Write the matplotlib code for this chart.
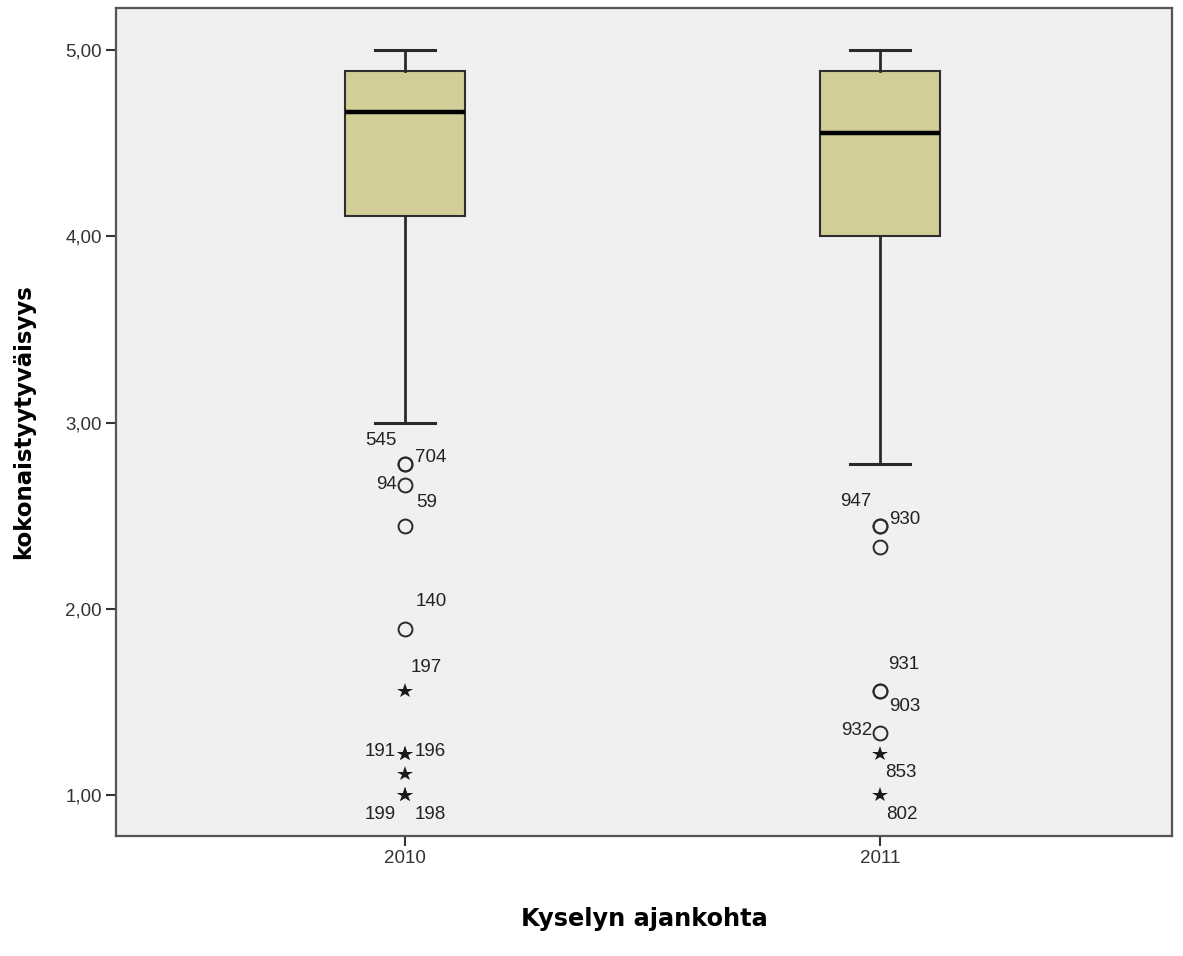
import matplotlib.pyplot as plt

# Survey rounds (x categories)
years = ['2010', '2011']

# Box statistics per year (scale 1-5)
q1 = [4.111, 4.000]
medians = [4.667, 4.556]
q3 = [4.889, 4.889]
whisker_low = [3.000, 2.778]
whisker_high = [5.000, 5.000]

# Outlying cases: value, case number, kind ('o' = outlier, '*' = extreme)
out_2010_vals = [2.778, 2.778, 2.667, 2.444, 1.889, 1.556, 1.222, 1.222, 1.111, 1.000, 1.000]
out_2010_ids = ['545', '704', '94', '59', '140', '197', '191', '196', '', '199', '198']
out_2010_kind = ['o', 'o', 'o', 'o', 'o', '*', '*', '*', '*', '*', '*']

out_2011_vals = [2.444, 2.444, 2.333, 1.556, 1.556, 1.333, 1.222, 1.000]
out_2011_ids = ['947', '930', '', '931', '903', '932', '853', '802']
out_2011_kind = ['o', 'o', 'o', 'o', 'o', 'o', '*', '*']

# label offsets in pixels (dx, dy) from the marker
off_2010 = [(-24, 23), (26, 6), (-18, 0), (22, 24), (26, 28), (21, 24),
            (-25, 2), (25, 2), (0, 0), (-25, -19), (25, -19)]
off_2011 = [(-24, 25), (25, 7), (0, 0), (24, 27), (25, -15), (-23, 3),
            (21, -19), (22, -19)]

plt.rcParams['font.family'] = ['Liberation Sans', 'DejaVu Sans']

fig = plt.figure(figsize=(11.83, 9.56), dpi=100)
ax = fig.add_axes([0.098, 0.1255, 0.8927, 0.8661])
ax.set_facecolor('#F0F0F0')

positions = [1, 2]
stats = []
for i in range(len(years)):
    stats.append({'med': medians[i], 'q1': q1[i], 'q3': q3[i],
                  'whislo': whisker_low[i], 'whishi': whisker_high[i],
                  'fliers': []})

ax.bxp(stats, positions=positions, widths=0.252, patch_artist=True,
       showfliers=False, capwidths=0.126,
       boxprops=dict(facecolor='#D3CE97', edgecolor='#2e2e2e', linewidth=1.5),
       medianprops=dict(color='black', linewidth=3.2, solid_capstyle='butt'),
       whiskerprops=dict(color='#2a2a2a', linewidth=2),
       capprops=dict(color='#2a2a2a', linewidth=2.2))

# outliers and their case labels
groups = [(out_2010_vals, out_2010_ids, out_2010_kind, off_2010),
          (out_2011_vals, out_2011_ids, out_2011_kind, off_2011)]
for pos, (vals, ids, kinds, offs) in zip(positions, groups):
    for v, lab, k, (dx, dy) in zip(vals, ids, kinds, offs):
        if k == 'o':
            ax.plot(pos, v, marker='o', markersize=10, markerfacecolor='none',
                    markeredgecolor='#2a2a2a', markeredgewidth=1.4, zorder=4)
        else:
            ax.plot(pos, v, marker='*', markersize=11.5, color='#1a1a1a',
                    markeredgewidth=0, zorder=4)
        if lab:
            ax.annotate(lab, xy=(pos, v), xytext=(dx, dy),
                        textcoords='offset pixels', ha='center', va='center',
                        fontsize=13.5, color='#222222')

ax.set_xlim(0.3916, 2.615)
ax.set_ylim(0.78, 5.2255)
ax.set_xticks(positions)
ax.set_xticklabels(years)
ax.set_yticks([1, 2, 3, 4, 5])
ax.set_yticklabels(['1,00', '2,00', '3,00', '4,00', '5,00'])
ax.tick_params(direction='out', length=7, width=1.5, colors='#333333',
               labelsize=13.5, pad=3)

for sp in ax.spines.values():
    sp.set_color('#555555')
    sp.set_linewidth(1.6)

ax.set_xlabel('Kyselyn ajankohta', fontsize=17.3, fontweight='bold',
              family='DejaVu Sans', labelpad=29)
ax.set_ylabel('kokonaistyytyväisyys', fontsize=16.5, fontweight='bold',
              family='DejaVu Sans', labelpad=22)

fig.savefig('out.png', dpi=100, facecolor='white')
